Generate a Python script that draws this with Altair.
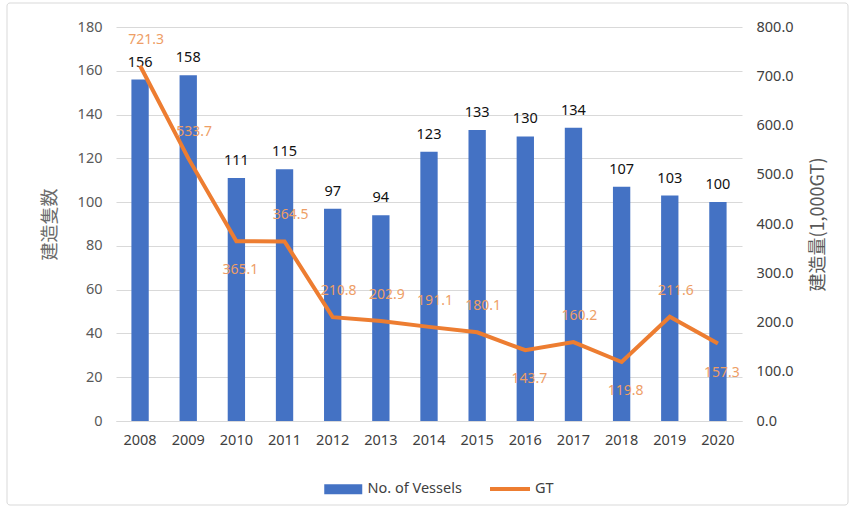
import altair as alt
import pandas as pd

years = ["2008", "2009", "2010", "2011", "2012", "2013", "2014",
         "2015", "2016", "2017", "2018", "2019", "2020"]
vessels = [156, 158, 111, 115, 97, 94, 123, 133, 130, 134, 107, 103, 100]
gt = [721.3, 533.7, 365.1, 364.5, 210.8, 202.9, 191.1, 180.1, 143.7,
      160.2, 119.8, 211.6, 157.3]

# label goes below the point when the point is a local dip
below = []
for i, v in enumerate(gt):
    prev_ok = i > 0 and v < gt[i - 1] - 1
    next_ok = i == len(gt) - 1 or v <= gt[i + 1] + 1
    below.append(bool(prev_ok and next_ok))

df = pd.DataFrame({
    "year": years,
    "vessels": vessels,
    "gt": gt,
    "below": below,
    "s1": "No. of Vessels",
    "s2": "GT",
})

BLUE = "#4472C4"
ORANGE = "#ED7D31"
LABEL_OR = "#EE9E66"
FONT = "Noto Sans"
CJK = "Noto Sans CJK JP"

base = alt.Chart(df)

x = alt.X("year:O", title=None,
          scale=alt.Scale(paddingInner=0.64, paddingOuter=0.32),
          axis=alt.Axis(labelAngle=0, ticks=False, domain=True,
                        domainColor="#d9d9d9", labelPadding=12,
                        labelFontSize=14.5, labelColor="#404040",
                        labelFont=FONT))

y_left = alt.Y("vessels:Q", title="建造隻数",
               scale=alt.Scale(domain=[0, 180], nice=False),
               axis=alt.Axis(values=list(range(0, 181, 20)), grid=True,
                             gridColor="#d9d9d9", ticks=False, domain=False,
                             labelPadding=14, labelFontSize=14.5,
                             labelColor="#595959", labelFont=FONT,
                             titleFont=CJK, titleFontSize=18,
                             titleFontWeight="normal", titleColor="#6b6b6b",
                             titlePadding=18))

y_right = alt.Y("gt:Q", title="建造量(1,000GT)",
                scale=alt.Scale(domain=[0, 800], nice=False),
                axis=alt.Axis(orient="right", values=list(range(0, 801, 100)),
                              format=".1f", grid=False, ticks=False,
                              domain=False, labelPadding=14,
                              labelFontSize=14.5, labelColor="#404040",
                              labelFont=FONT, titleFont=CJK, titleFontSize=18,
                              titleFontWeight="normal", titleColor="#595959",
                              titleAngle=270, titleBaseline="top",
                              titlePadding=16))

bars = base.mark_bar(color=BLUE).encode(
    x=x, y=y_left,
    color=alt.Color("s1:N", scale=alt.Scale(domain=["No. of Vessels"], range=[BLUE]),
                    legend=alt.Legend(title=None, orient="none", legendX=220,
                                      legendY=455,
                                      symbolType="M-3.8,-1H3.8V1H-3.8Z",
                                      symbolSize=100, symbolStrokeWidth=0,
                                      labelOffset=17, labelFontSize=14.5,
                                      labelFont=FONT, labelColor="#404040")),
)
bar_text = base.mark_text(baseline="bottom", dy=-10, fontSize=14.5,
                          font=FONT, color="#111111").encode(
    x=x, y=y_left, text=alt.Text("vessels:Q"))

left = alt.layer(bars, bar_text)

line = base.mark_line(strokeWidth=4, color=ORANGE).encode(
    x=x, y=y_right,
    color=alt.Color("s2:N", scale=alt.Scale(domain=["GT"], range=[ORANGE]),
                    legend=alt.Legend(title=None, orient="none", legendX=372,
                                      legendY=440, symbolType="stroke",
                                      symbolSize=1600, symbolStrokeWidth=4,
                                      labelOffset=3, labelFontSize=14.5,
                                      labelFont=FONT, labelColor="#404040")),
)
gt_above = base.transform_filter("!datum.below").mark_text(
    dy=-26, dx=6, fontSize=14, font=FONT, color=LABEL_OR).encode(
    x=x, y=y_right, text=alt.Text("gt:Q", format=".1f"))
gt_below = base.transform_filter("datum.below").mark_text(
    dy=29, dx=4, fontSize=14, font=FONT, color=LABEL_OR).encode(
    x=x, y=y_right, text=alt.Text("gt:Q", format=".1f"))

right = alt.layer(line, gt_above, gt_below)

border = alt.Chart(alt.Data(values=[{"a": 1}])).mark_rect(
    fill=None, stroke="#d9d9d9", strokeWidth=1, cornerRadius=3).encode(
    x=alt.value(-109), x2=alt.value(732), y=alt.value(-24), y2=alt.value(478))

chart = alt.layer(border, left, right).resolve_scale(
    y="independent", color="independent"
).properties(
    width=626, height=394,
    padding={"left": 116, "top": 27, "right": 110, "bottom": 89},
    autosize=alt.AutoSizeParams(type="none"),
    background="white",
).configure_view(stroke=None)

chart.save("out.html", embed_options={"renderer": "svg", "actions": False})
